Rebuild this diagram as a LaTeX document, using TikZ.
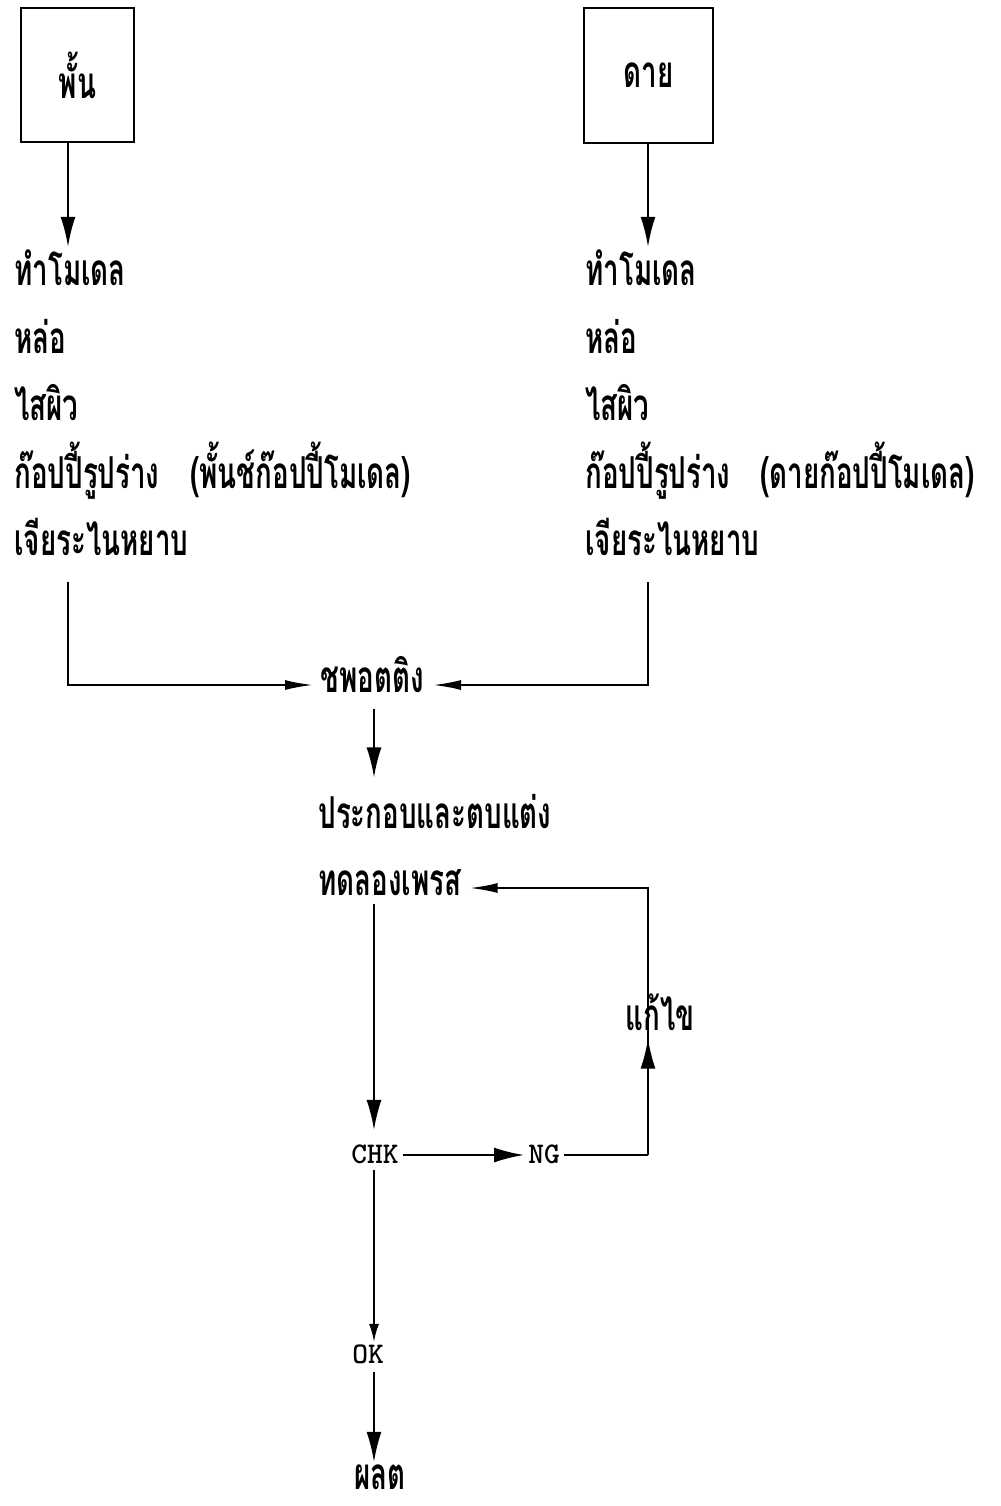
\documentclass[tikz,border=0pt]{standalone}
\usepackage{fontspec}
\usetikzlibrary{arrows.meta}
\newfontfamily\thaifont[Script=Thai,FakeStretch=0.63]{Loma}
\begin{document}
\begin{tikzpicture}[x=0.5pt,y=-0.5pt,
  thtxt/.style={font=\thaifont\bfseries\fontsize{22}{26}\selectfont, inner sep=0pt, anchor=base west},
  mtxt/.style={font=\ttfamily\bfseries\fontsize{15}{17}\selectfont, inner sep=0pt, anchor=base west},
  boxnode/.style={draw, line width=0.9pt, inner sep=0pt, font=\thaifont\bfseries\fontsize{22}{26}\selectfont},
  conn/.style={line width=1pt},
  arr/.style={line width=1pt, -{Latex[length=15pt,width=7.5pt]}},
  sarr/.style={line width=1pt, -{Latex[length=14pt,width=5pt]}},
  tarr/.style={line width=1pt, -{Latex[length=9pt,width=5pt]}}]
\useasboundingbox (0,0) rectangle (1001,1506);
% boxes
\node[boxnode, minimum width=56.5pt, minimum height=67pt] (bL) at (77.5,75) {พั้น};
\node[boxnode, minimum width=64.5pt, minimum height=67.5pt] (bR) at (648.5,75.5) {ดาย};
% left column
\node[thtxt] (L1) at (14,285) {ทำโมเดล};
\node[thtxt] (L2) at (14,353) {หล่อ};
\node[thtxt] (L3) at (14,420) {ไสผิว};
\node[thtxt] (L4) at (14,488) {ก๊อปปี้รูปร่าง};
\node[thtxt] (L4b) at (190,488) {(พั้นช์ก๊อปปี้โมเดล)};
\node[thtxt] (L5) at (14,555) {เจียระไนหยาบ};
% right column
\node[thtxt] (R1) at (585,285) {ทำโมเดล};
\node[thtxt] (R2) at (585,353) {หล่อ};
\node[thtxt] (R3) at (585,420) {ไสผิว};
\node[thtxt] (R4) at (585,488) {ก๊อปปี้รูปร่าง};
\node[thtxt] (R4b) at (760,488) {(ดายก๊อปปี้โมเดล)};
\node[thtxt] (R5) at (585,555) {เจียระไนหยาบ};
% centre
\node[thtxt] (sp) at (320,692) {ชพอตติง};
\node[thtxt] (pk) at (318,828) {ประกอบและตบแต่ง};
\node[thtxt] (td) at (318,895) {ทดลองเพรส};
\node[thtxt] (kk) at (625,1030) {แก้ไข};
\node[mtxt] (chk) at (351,1163) {CHK};
\node[mtxt] (ng) at (528,1163) {NG};
\node[mtxt] (ok) at (352,1363) {OK};
\node[thtxt] (pl) at (354,1489) {ผลต};
% helper coordinates
\coordinate (ax) at (374,0);
\coordinate (cL0) at (68,142);
\coordinate (cR0) at (648,143);
\coordinate (cL1) at (68,582);
\coordinate (cL2) at (68,685);
\coordinate (cR1) at (648,582);
\coordinate (cR2) at (648,685);
\coordinate (cT) at (648,888);
\coordinate (cN) at (648,1155);
% connectors
\draw[arr, shorten >=1pt] (bL.south -| cL0) -- (cL0 |- L1.north);
\draw[arr, shorten >=1pt] (bR.south -| cR0) -- (cR0 |- R1.north);
\draw[sarr, shorten >=3.5pt] (cL1) -- (cL2) -- (cL2 -| sp.west);
\draw[sarr, shorten >=4.5pt] (cR1) -- (cR2) -- (cR2 -| sp.east);
\draw[arr, shorten <=8pt, shorten >=8pt] (sp.south -| ax) -- (pk.north -| ax);
\draw[sarr, shorten >=4pt] (cN) -- (cT) -- (cT -| td.east);
\draw[arr, shorten <=4pt, shorten >=7pt] (td.south -| ax) -- (chk.north -| ax);
\draw[arr, shorten <=2pt, shorten >=2pt] (chk.east |- cN) -- (cN -| ng.west);
\draw[conn, shorten <=2pt] (ng.east |- cN) -- (cN);
\draw[arr, shorten >=4pt] (cN) -- (kk.south -| cN);
\draw[tarr, shorten <=3pt, shorten >=1pt] (chk.south -| ax) -- (ok.north -| ax);
\draw[arr, shorten <=4pt, shorten >=1pt] (ok.south -| ax) -- (pl.north -| ax);
\end{tikzpicture}
\end{document}
